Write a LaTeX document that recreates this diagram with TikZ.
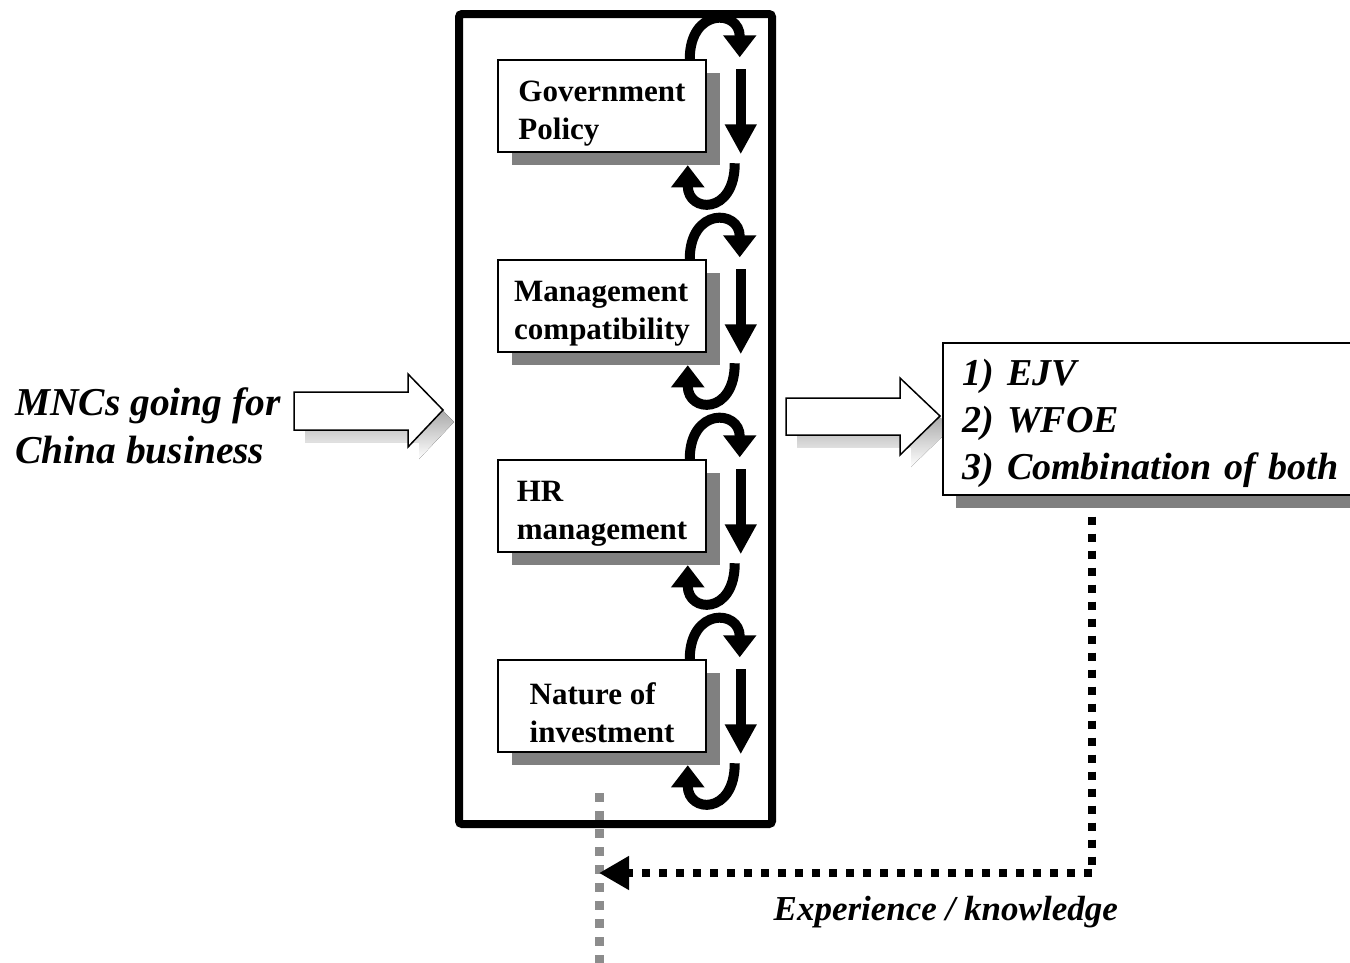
\documentclass[tikz,border=0pt]{standalone}
\usepackage{fontspec}
\setmainfont{Liberation Serif}
\usetikzlibrary{arrows.meta, calc, positioning, shadows}
\colorlet{shade}{black!50}
\colorlet{dots grey}{black!45}
\tikzset{
  factor/.style={draw, fill=white, line width=1.5pt, minimum width=208pt,
    minimum height=92pt, align=left, inner sep=0pt, text height=73pt,
    font=\fontsize{31}{38}\selectfont\bfseries,
    drop shadow={shadow xshift=14pt, shadow yshift=-13pt, fill=shade, opacity=1}},
  frame/.style={draw, line width=8pt, rounded corners=3pt,
    minimum width=313pt, minimum height=810pt},
  outbox/.style={draw, fill=white, line width=1.5pt, minimum height=152pt,
    text width=390pt, inner xsep=20pt, align=left, text height=36pt,
    font=\fontsize{38}{47}\selectfont\bfseries\itshape,
    drop shadow={shadow xshift=13pt, shadow yshift=-13pt, fill=shade, opacity=1}},
  blockarrow/.style={draw, fill=white, line width=1.5pt, line join=miter},
  turn/.style={line width=10pt, -{Triangle[width=32pt, length=22pt]}},
  down/.style={line width=10pt, -{Triangle[width=30pt, length=30pt]}},
  feedback/.style={line width=8pt, dash pattern=on 8pt off 9pt,
    -{Triangle[width=32pt, length=30pt]}},
  greydots/.style={draw=dots grey, line width=9pt, dash pattern=on 9pt off 9pt}
}

\begin{document}
\begin{tikzpicture}[x=1pt, y=-1pt]
  \useasboundingbox (0,0) rectangle (1350,962);
  \clip (0,0) rectangle (1350,962);
  % dotted line under the frame
  \coordinate (gtop) at (599,793);
  \coordinate (gbot) at (599,968);
  \draw[greydots] (gtop) -- (gbot);
  \node[frame] (frame) at (615.5,419) {};
  % the four factors
  \foreach \t [count=\i] in {{Government\\Policy}, {Management\\compatibility},
      {HR\\management}, {Nature of\\investment}} {
    \node[factor] (f\i) at (602,{106+200*(\i-1)}) {\t};
    \draw[turn] ($(f\i.north east)+(-17,0)$) .. controls +(0,-52) and +(0,-48)
      .. ($(f\i.north east)+(33,-2)$);
    \draw[down] ($(f\i.north east)+(34,10)$) -- ($(f\i.north east)+(34,95)$);
    \draw[turn] ($(f\i.north east)+(28,104)$) .. controls +(0,52) and +(0,48)
      .. ($(f\i.north east)+(-19,106)$);
  }
  \node[anchor=west, inner sep=0pt, align=left,
    font=\fontsize{39.5}{48}\selectfont\bfseries\itshape] (mnc) at (15,426)
    {MNCs going for\\China business};
  % block arrows
  \fill[shade, shift={(11,12)}] (294,392) -- ++(114,0) -- ++(0,-18) -- (443,410)
    -- (408,447) -- ++(0,-17) -- ++(-114,0) -- cycle;
  \draw[blockarrow] (294,392) -- ++(114,0) -- ++(0,-18) -- (443,410)
    -- (408,447) -- ++(0,-17) -- ++(-114,0) -- cycle;
  \fill[shade, shift={(11,12)}] (786,398) -- ++(114,0) -- ++(0,-20) -- (940,416)
    -- (900,455) -- ++(0,-20) -- ++(-114,0) -- cycle;
  \draw[blockarrow] (786,398) -- ++(114,0) -- ++(0,-20) -- (940,416)
    -- (900,455) -- ++(0,-20) -- ++(-114,0) -- cycle;
  \node[outbox, anchor=north west] (out) at (942,342)
    {1) EJV\\2) WFOE\\3) Combination of both};
  % feedback
  \coordinate (fbdrop) at ($(out.south west)+(150,21)$);
  \coordinate (fbtip) at (599,873);
  \draw[feedback] (fbdrop) |- (fbtip);
  \node[anchor=east, inner sep=0pt,
    font=\fontsize{35}{40}\selectfont\bfseries\itshape] (exp) at (1118,912)
    {Experience / knowledge};
\end{tikzpicture}
\end{document}
